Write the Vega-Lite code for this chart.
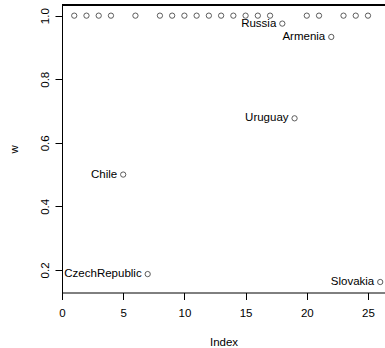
{
  "$schema": "https://vega.github.io/schema/vega-lite/v6.json",
  "width": 323,
  "height": 287.5,
  "autosize": {"type": "none"},
  "padding": {"left": 62, "top": 5, "right": 0, "bottom": 55.5},
  "background": "white",
  "config": {
    "view": {"stroke": null},
    "font": "Liberation Sans",
    "axis": {"grid": false, "domainColor": "black", "tickColor": "black", "labelColor": "black", "titleColor": "black", "titleFontWeight": "normal", "labelFont": "Liberation Sans", "titleFont": "Liberation Sans"}
  },
  "data": {
    "values": [
      {"idx": 1, "w": 1.0, "country": ""},
      {"idx": 2, "w": 1.0, "country": ""},
      {"idx": 3, "w": 1.0, "country": ""},
      {"idx": 4, "w": 1.0, "country": ""},
      {"idx": 5, "w": 0.5, "country": "Chile"},
      {"idx": 6, "w": 1.0, "country": ""},
      {"idx": 7, "w": 0.187, "country": "CzechRepublic"},
      {"idx": 8, "w": 1.0, "country": ""},
      {"idx": 9, "w": 1.0, "country": ""},
      {"idx": 10, "w": 1.0, "country": ""},
      {"idx": 11, "w": 1.0, "country": ""},
      {"idx": 12, "w": 1.0, "country": ""},
      {"idx": 13, "w": 1.0, "country": ""},
      {"idx": 14, "w": 1.0, "country": ""},
      {"idx": 15, "w": 1.0, "country": ""},
      {"idx": 16, "w": 1.0, "country": ""},
      {"idx": 17, "w": 1.0, "country": ""},
      {"idx": 18, "w": 0.975, "country": "Russia"},
      {"idx": 19, "w": 0.677, "country": "Uruguay"},
      {"idx": 20, "w": 1.0, "country": ""},
      {"idx": 21, "w": 1.0, "country": ""},
      {"idx": 22, "w": 0.933, "country": "Armenia"},
      {"idx": 23, "w": 1.0, "country": ""},
      {"idx": 24, "w": 1.0, "country": ""},
      {"idx": 25, "w": 1.0, "country": ""},
      {"idx": 26, "w": 0.162, "country": "Slovakia"}
    ]
  },
  "layer": [
    {
      "mark": {"type": "rule", "color": "black", "strokeWidth": 1},
      "encoding": {
        "y": {"datum": 1.0335, "type": "quantitative"},
        "x": {"datum": 0, "type": "quantitative"},
        "x2": {"datum": 26.39}
      }
    },
    {
      "mark": {"type": "point", "shape": "circle", "filled": false, "color": "black", "size": 28, "strokeWidth": 0.9},
      "encoding": {
        "x": {
          "field": "idx", "type": "quantitative",
          "scale": {"domain": [0, 26.39], "nice": false, "zero": false},
          "axis": {"title": "Index", "values": [0, 5, 10, 15, 20, 25], "tickSize": 7, "labelPadding": 8, "labelFontSize": 11.5, "titleFontSize": 11.5, "titleY": 50, "titleBaseline": "middle", "labelBaseline": "top", "labelFlush": false, "domainWidth": 1}
        },
        "y": {
          "field": "w", "type": "quantitative",
          "scale": {"domain": [0.129, 1.0335], "nice": false, "zero": false},
          "axis": {"title": "w", "values": [0.2, 0.4, 0.6, 0.8, 1.0], "format": ".1f", "tickSize": 7, "labelPadding": 7, "labelAngle": -90, "labelAlign": "center", "labelBaseline": "alphabetic", "labelFontSize": 11.5, "titleFontSize": 11.5, "titleX": -48, "titleY": 143.75, "titleAngle": -90, "titleBaseline": "middle", "titleAlign": "center", "labelFlush": false, "domainWidth": 1}
        }
      }
    },
    {
      "transform": [{"filter": "datum.country != ''"}],
      "mark": {"type": "text", "align": "right", "baseline": "middle", "dx": -6, "fontSize": 11.5, "color": "black"},
      "encoding": {
        "x": {"field": "idx", "type": "quantitative"},
        "y": {"field": "w", "type": "quantitative"},
        "text": {"field": "country"}
      }
    }
  ]
}
